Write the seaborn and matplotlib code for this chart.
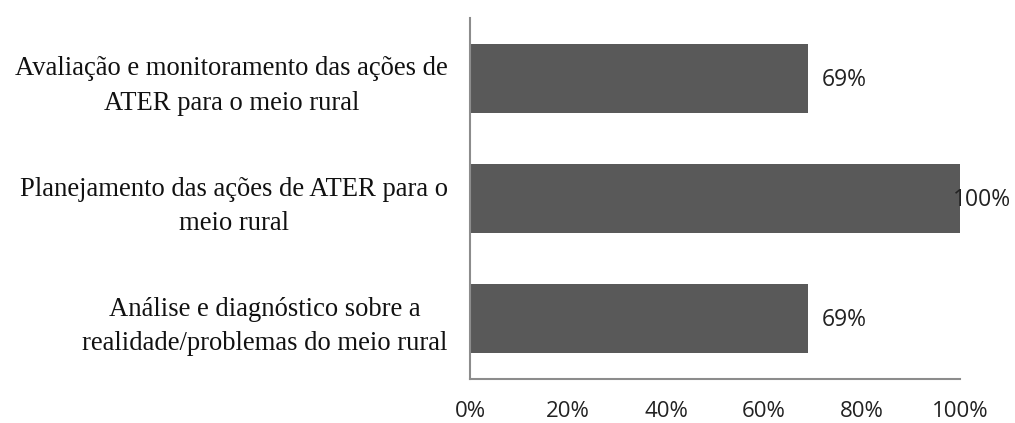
import matplotlib
matplotlib.use("Agg")
import matplotlib.pyplot as plt
import seaborn as sns
import pandas as pd

categories = [
    "Avaliação e monitoramento das ações de\nATER para o meio rural",
    "Planejamento das ações de ATER para o\nmeio rural",
    "Análise e diagnóstico sobre a\nrealidade/problemas do meio rural",
]
values = [0.69, 1.00, 0.69]
value_labels = ["69%", "100%", "69%"]
xtick_vals = [0, 0.2, 0.4, 0.6, 0.8, 1.0]
xtick_labels = ["0%", "20%", "40%", "60%", "80%", "100%"]

df = pd.DataFrame({"cat": categories, "val": values})

sns.set_theme(style="white")
fig = plt.figure(figsize=(10.15, 4.23), dpi=100)
ax = fig.add_axes([470/1015, 44/423, 490/1015, 361/423])

sns.barplot(data=df, x="val", y="cat", orient="h", color="#595959",
            saturation=1, width=0.575, ax=ax, edgecolor="none")

ax.set_xlim(0, 1.0)
ax.set_ylim(2.5, -0.5)
ax.set_xlabel("")
ax.set_ylabel("")
ax.set_xticks(xtick_vals)
ax.set_xticklabels(xtick_labels, fontfamily="Open Sans", fontsize=16, color="#222222")
ax.tick_params(axis="x", length=0, pad=16)
ax.tick_params(axis="y", length=0, pad=16)
for lbl in ax.get_yticklabels():
    lbl.set_fontfamily("Liberation Serif")
    lbl.set_fontsize(19.2)
    lbl.set_color("#111111")
    lbl.set_multialignment("center")
    lbl.set_linespacing(1.5)

for s in ["top", "right"]:
    ax.spines[s].set_visible(False)
for s in ["left", "bottom"]:
    ax.spines[s].set_color("#8c8c8c")
    ax.spines[s].set_linewidth(1.5)

for i, (v, t) in enumerate(zip(values, value_labels)):
    if v >= ax.get_xlim()[1]:
        ax.annotate(t, xy=(v, i), xytext=(-5, -1), textcoords="offset points",
                    ha="left", va="center", fontfamily="Open Sans",
                    fontsize=16.5, color="#222222", annotation_clip=False)
    else:
        ax.annotate(t, xy=(v, i), xytext=(9.5, -1), textcoords="offset points",
                    ha="left", va="center", fontfamily="Open Sans",
                    fontsize=16.5, color="#222222")

fig.savefig("out.png", dpi=100)
